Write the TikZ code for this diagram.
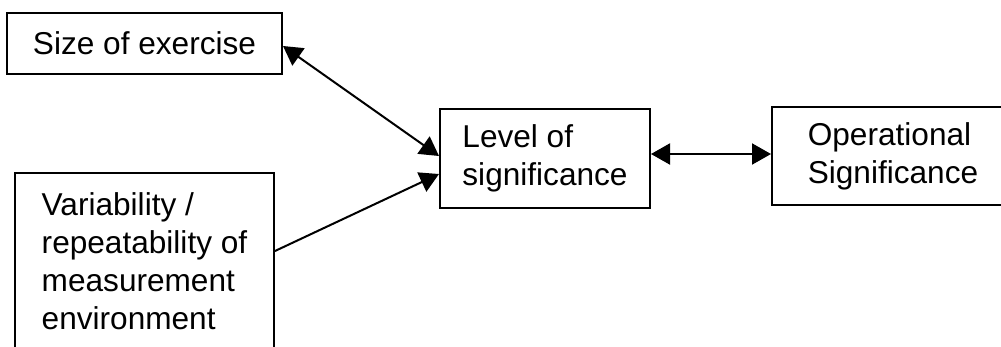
\documentclass[tikz,border=0pt]{standalone}
\usepackage{fontspec}
\setmainfont{Liberation Sans}
\usetikzlibrary{arrows.meta}
\tikzset{bigtri/.tip={Triangle[length=19pt,width=21pt]}}
\begin{document}
\begin{tikzpicture}[x=1pt,y=-1pt,
  box/.style={draw, line width=2pt, rectangle, align=left, inner sep=0pt,
    font=\fontsize{31.6}{38}\selectfont},
  link/.style={line width=2pt}]
\useasboundingbox (0,0) rectangle (1001,346);
\clip (0,0) rectangle (1001,346);
\node[box, minimum width=275pt, minimum height=61pt] (size) at (144.5,43.5) {Size of exercise};
\node[box, minimum width=259pt, minimum height=177pt] (var) at (144.5,261.5)
  {Variability /\\repeatability of\\measurement\\environment};
\node[box, minimum width=210pt, minimum height=99pt] (level) at (545,158.5)
  {Level of\\significance};
\node[box, minimum width=242pt, minimum height=98pt] (op) at (893,156)
  {Operational\\Significance};
\draw[link, bigtri-bigtri] ([yshift=-2.5pt]size.east) -- ([yshift=2.5pt]level.west);
\draw[link, -bigtri] ([yshift=10.5pt]var.east) -- ([yshift=-15.5pt]level.west);
\coordinate (h1) at ([yshift=4.5pt]level.east);
\draw[link, bigtri-bigtri] (h1) -- (h1 -| op.west);
\end{tikzpicture}
\end{document}
